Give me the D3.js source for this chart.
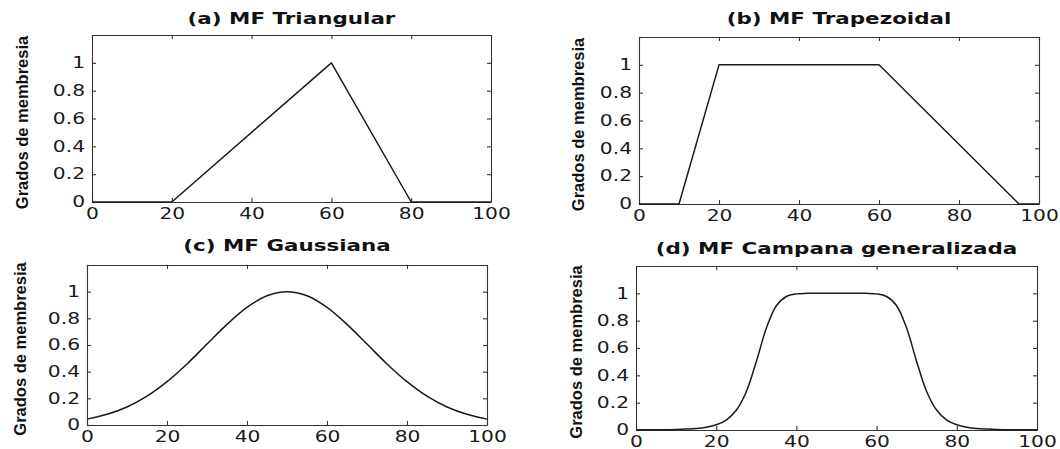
<!DOCTYPE html>
<html>
<head>
<meta charset="utf-8">
<script src="https://cdn.jsdelivr.net/npm/d3@7"></script>
<style>
  body { margin: 0; background: #fff; }
  svg { display: block; }
  .tick text { font-family: "DejaVu Sans", sans-serif; font-size: 15px; fill: #1a1a1a; }
  .domain, .tick line { stroke: #333; stroke-width: 1.1; }
</style>
</head>
<body>
<svg width="1060" height="449"></svg>
<script>
// tick values and labels
var xTicks = [0, 20, 40, 60, 80, 100];
var yTicks = [0, 0.2, 0.4, 0.6, 0.8, 1];
var titles = ["(a) MF Triangular", "(b) MF Trapezoidal", "(c) MF Gaussiana", "(d) MF Campana generalizada"];
var yLabel = "Grados de membresia";

// (a) triangular
var triX = [0, 20, 60, 80, 100];
var triY = [0, 0, 1, 0, 0];

// (b) trapezoidal
var trapX = [0, 10, 20, 60, 95, 100];
var trapY = [0, 0, 1, 1, 0, 0];

// (c) gaussian, read every 5 units
var gaussX = [0, 5, 10, 15, 20, 25, 30, 35, 40, 45, 50, 55, 60, 65, 70, 75, 80, 85, 90, 95, 100];
var gaussY = [0.044, 0.08, 0.135, 0.216, 0.325, 0.458, 0.607, 0.755, 0.882, 0.969, 1,
              0.969, 0.882, 0.755, 0.607, 0.458, 0.325, 0.216, 0.135, 0.08, 0.044];

// (d) generalized bell, read every 2.5 units
var bellX = [0, 2.5, 5, 7.5, 10, 12.5, 15, 17.5, 20, 22.5, 25, 27.5, 30, 32.5, 35, 37.5, 40, 42.5, 45, 47.5, 50,
             52.5, 55, 57.5, 60, 62.5, 65, 67.5, 70, 72.5, 75, 77.5, 80, 82.5, 85, 87.5, 90, 92.5, 95, 97.5, 100];
var bellY = [0.001, 0.001, 0.002, 0.002, 0.004, 0.007, 0.011, 0.02, 0.038, 0.073, 0.144, 0.28, 0.5, 0.744, 0.909, 0.977, 0.996, 1, 1, 1, 1,
             1, 1, 1, 0.996, 0.977, 0.909, 0.744, 0.5, 0.28, 0.144, 0.073, 0.038, 0.02, 0.011, 0.007, 0.004, 0.002, 0.002, 0.001, 0.001];

var series = [[triX, triY], [trapX, trapY], [gaussX, gaussY], [bellX, bellY]];

// panel boxes (page pixels)
var panels = [
  {x0: 92,  x1: 491,  y0: 35,  y1: 202, ty: 24,  lx: 22},
  {x0: 639, x1: 1039, y0: 37,  y1: 204, ty: 24,  lx: 578},
  {x0: 87,  x1: 487,  y0: 265, y1: 425, ty: 251, lx: 20},
  {x0: 636, x1: 1037, y0: 266, y1: 430, ty: 254, lx: 576}
];

var svg = d3.select("svg");
var sx = 1.35;   // the scanned figure is stretched sideways

panels.forEach(function(p, i) {
  var x = d3.scaleLinear().domain([0, 100]).range([p.x0, p.x1]);
  var y = d3.scaleLinear().domain([0, 1.2]).range([p.y1, p.y0]);
  var g = svg.append("g");

  // bottom axis with labels
  var bottom = g.append("g")
    .attr("transform", "translate(0," + p.y1 + ")")
    .call(d3.axisBottom(x).tickValues(xTicks).tickSizeInner(-4).tickSizeOuter(0).tickPadding(6));
  bottom.selectAll("text").attr("transform", "scale(" + sx + ",1)");

  // left axis with labels
  var left = g.append("g")
    .attr("transform", "translate(" + p.x0 + ",0)")
    .call(d3.axisLeft(y).tickValues(yTicks).tickSizeInner(-4).tickSizeOuter(0)
      .tickFormat(function(d) { return d3.format("")(+d.toFixed(1)); }));
  left.selectAll("text")
    .attr("x", -7 / sx)
    .attr("transform", "scale(" + sx + ",1)");

  // top and right, ticks only
  g.append("g")
    .attr("transform", "translate(0," + p.y0 + ")")
    .call(d3.axisTop(x).tickValues(xTicks).tickSizeInner(-4).tickSizeOuter(0).tickFormat(""));
  g.append("g")
    .attr("transform", "translate(" + p.x1 + ",0)")
    .call(d3.axisRight(y).tickValues(yTicks).tickSizeInner(-4).tickSizeOuter(0).tickFormat(""));

  // curve
  var xs = series[i][0], ys = series[i][1];
  var line = d3.line()
    .x(function(d, k) { return x(xs[k]); })
    .y(function(d, k) { return y(ys[k]); });
  if (i >= 2) line.curve(d3.curveCatmullRom);
  g.append("path")
    .datum(xs)
    .attr("d", line)
    .attr("fill", "none")
    .attr("stroke", "#1a1a1a")
    .attr("stroke-width", 1.5)
    .attr("stroke-linejoin", "round");

  // title
  var cx = (p.x0 + p.x1) / 2;
  g.append("text")
    .attr("transform", "translate(" + cx + "," + p.ty + ") scale(1.3,1)")
    .attr("text-anchor", "middle")
    .attr("font-family", "DejaVu Sans, sans-serif")
    .attr("font-weight", "bold")
    .attr("font-size", 16.5)
    .attr("fill", "#111")
    .text(titles[i]);

  // y label
  var cy = (p.y0 + p.y1) / 2 + 4;
  g.append("text")
    .attr("transform", "translate(" + p.lx + "," + cy + ") rotate(-90)")
    .attr("text-anchor", "middle")
    .attr("dominant-baseline", "central")
    .attr("font-family", "Liberation Sans Narrow, Liberation Sans, sans-serif")
    .attr("font-weight", "bold")
    .attr("font-size", 16.5)
    .attr("fill", "#111")
    .text(yLabel);
});
</script>
</body>
</html>
